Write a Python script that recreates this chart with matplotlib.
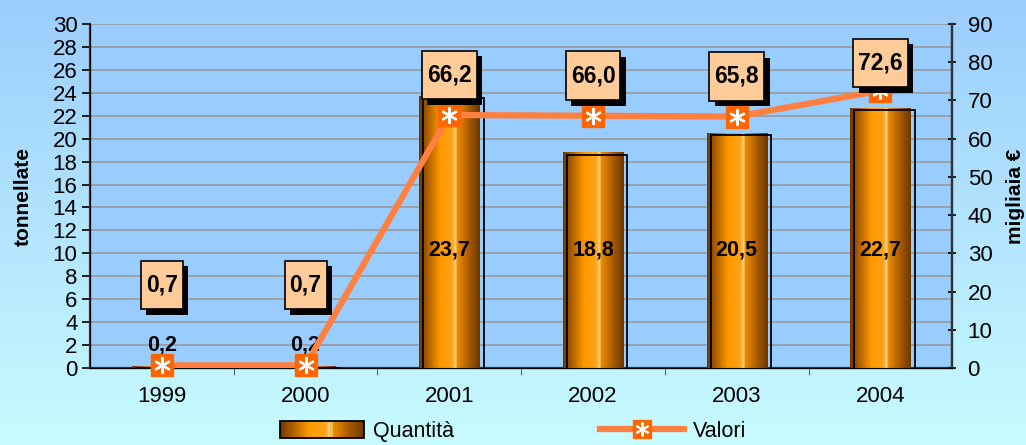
import numpy as np
import matplotlib
matplotlib.use("Agg")
import matplotlib.pyplot as plt
import matplotlib.patheffects as pe
from matplotlib.colors import LinearSegmentedColormap
from matplotlib.patches import Rectangle
from matplotlib.lines import Line2D
from matplotlib.path import Path
from matplotlib.transforms import ScaledTranslation
from matplotlib.legend_handler import HandlerBase, HandlerTuple

plt.rcParams['font.family'] = ['Liberation Sans', 'DejaVu Sans']

years = ['1999', '2000', '2001', '2002', '2003', '2004']
quantita = [0.2, 0.2, 23.7, 18.8, 20.5, 22.7]   # tonnellate
valori = [0.7, 0.7, 66.2, 66.0, 65.8, 72.6]     # migliaia di euro

fmt = lambda v: f"{v:.1f}".replace('.', ',')

bar_cmap = LinearSegmentedColormap.from_list('bar', [
    (0.0, '#6a3800'), (0.15, '#b06000'), (0.35, '#ff9900'), (0.55, '#ffa21a'),
    (0.6, '#ffd58a'), (0.63, '#e98c00'), (0.85, '#a05400'), (1.0, '#6a3800')])


def tall_box(x0, y0, width, height, mutation_size):
    # square label box, a bit taller than the text
    px, py = 0.22 * mutation_size, 0.56 * mutation_size
    x0, y0, x1, y1 = x0 - px, y0 - py, x0 + width + px, y0 + height + py
    return Path([(x0, y0), (x1, y0), (x1, y1), (x0, y1), (x0, y0)], closed=True)


class GradientBarHandler(HandlerBase):
    def create_artists(self, legend, orig_handle, xdescent, ydescent, width, height,
                       fontsize, trans):
        n = 40
        arts = []
        for i in range(n):
            arts.append(Rectangle((-xdescent + width * i / n, -ydescent), width / n + 0.3,
                                  height, fc=bar_cmap((i + 0.5) / n), ec='none',
                                  transform=trans))
        arts.append(Rectangle((-xdescent, -ydescent), width, height, fill=False,
                              ec='black', lw=1.3, transform=trans))
        return arts


fig = plt.figure(figsize=(10.26, 4.45), dpi=100)

# background gradient for whole figure
bg = fig.add_axes([0, 0, 1, 1], zorder=-10)
bg_cmap = LinearSegmentedColormap.from_list('bg', ['#9ccdfd', '#c8fcff'])
bg.imshow(np.linspace(0, 1, 256).reshape(-1, 1), cmap=bg_cmap, aspect='auto',
          extent=(0, 1, 0, 1))
bg.axis('off')

ax = fig.add_axes([0.0877, 0.173, 0.8405, 0.773])
ax.set_facecolor('#99ccff')
x = np.arange(len(years))
w = 0.42

# bars with cylinder-like gradient
bars = ax.bar(x, quantita, w, color='none', edgecolor='none', zorder=3)
grad = np.linspace(0, 1, 256).reshape(1, -1)
for r in bars:
    im = ax.imshow(grad, cmap=bar_cmap, aspect='auto', zorder=3,
                   extent=(r.get_x(), r.get_x() + r.get_width(), 0, r.get_height()))
    im.set_clip_path(r)
shift = ax.transData + ScaledTranslation(3 / 72, -1.5 / 72, fig.dpi_scale_trans)
ax.bar(x, quantita, w, fill=False, edgecolor='black', lw=1.3, zorder=4,
       transform=shift)

for xi, v in zip(x, quantita):
    yl = 10.3 if v > 5 else v + 1.8
    ax.text(xi, yl, fmt(v), ha='center', va='center', fontsize=15.5,
            fontweight='bold', zorder=6)

ax.set_xlim(-0.5, len(years) - 0.5)
ax.set_ylim(0, 30)
ax.set_yticks(np.arange(0, 31, 2))
ax.yaxis.grid(True, color='#999999', lw=1.2, zorder=0)
ax.set_axisbelow(True)
ax.set_xticks(x)
ax.set_xticklabels(years, fontsize=16)
ax.set_xticks(np.arange(0.5, len(years) - 1, 1), minor=True)
ax.tick_params(axis='x', which='major', length=0, pad=13)
ax.tick_params(axis='x', which='minor', length=5, direction='out', color='#444444')
ax.tick_params(axis='y', labelsize=16, length=6, width=1.2, pad=3)
ax.set_ylabel('tonnellate', fontsize=15, fontweight='bold', labelpad=14)
ax.spines['top'].set_visible(False)
for s in ['left', 'bottom', 'right']:
    ax.spines[s].set_color('#333333')
    ax.spines[s].set_linewidth(1.6)

ax2 = ax.twinx()
ax2.set_ylim(0, 90)
ax2.set_yticks(np.arange(0, 91, 10))
ax2.tick_params(axis='y', labelsize=16, length=6, width=1.2, direction='inout', pad=8)
ax2.set_ylabel('migliaia €', fontsize=15, fontweight='bold', labelpad=10)
ax2.spines['top'].set_visible(False)
ax2.spines['right'].set_color('#333333')
ax2.spines['right'].set_linewidth(1.6)

ax2.plot(x, valori, color='#ff8040', lw=4.5, zorder=5, solid_capstyle='butt')
ax2.plot(x, valori, ls='none', marker='s', ms=16, color='#ff6600', zorder=6,
         clip_on=False)
ax2.plot(x, valori, ls='none', marker=(6, 2, 0), ms=12, mew=1.6, color='white',
         zorder=7, clip_on=False)

for xi, v in zip(x, valori):
    yl = min(max(v + 10.5, 21.7), 79.8)
    t = ax2.text(xi, yl, fmt(v), ha='center', va='center', fontsize=16.5,
                 fontweight='bold', zorder=8,
                 bbox=dict(boxstyle=tall_box, fc='#ffcc99', ec='black', lw=1.2))
    t.get_bbox_patch().set_path_effects([
        pe.SimplePatchShadow(offset=(4, -4), shadow_rgbFace='black', alpha=1),
        pe.Normal()])

h_bar = Rectangle((0, 0), 1, 1)
h_line = Line2D([], [], color='#ff8040', lw=4.5, marker='s', ms=13, mfc='#ff6600',
                mec='#ff6600')
h_star = Line2D([], [], ls='none', marker=(6, 2, 0), ms=10, mew=1.4, color='white')
leg = fig.legend([h_bar, (h_line, h_star)], ['Quantità', 'Valori'], loc='center',
                 bbox_to_anchor=(0.5, 0.03), ncol=2, frameon=False,
                 fontsize=15.5, handlelength=3.9, handleheight=0.8,
                 columnspacing=6.8, handletextpad=0.4,
                 handler_map={Rectangle: GradientBarHandler(),
                              tuple: HandlerTuple(ndivide=1)})

fig.savefig('out.png', dpi=100)
